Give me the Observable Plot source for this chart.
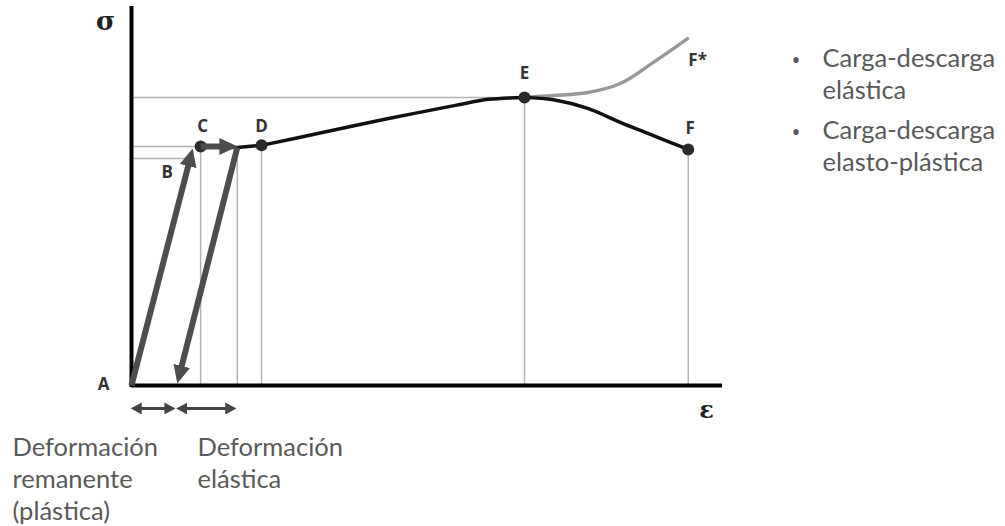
<!DOCTYPE html>
<html><head><meta charset="utf-8">
<script src="https://cdn.jsdelivr.net/npm/d3@7"></script>
<script src="https://cdn.jsdelivr.net/npm/@observablehq/plot@0.6"></script>
<style>body{margin:0;background:#fff;}</style>
</head><body><div id="chart"></div>
<script>
// ---- data (ε, σ in schematic units) ----
const pointLabels = ["A", "B", "C", "D", "E", "F", "F*"];
const pointEps    = [0, 9.6, 11.7, 22.0, 66.5, 94.2, 94.1];
const pointSigma  = [0, 60.2, 63.4, 63.7, 76.4, 62.6, 92.0];
const dotLabels   = ["C", "D", "E", "F"];

const hardeningEps   = [22.0, 32.3, 43.5, 54.8, 60.4, 66.5];
const hardeningSigma = [63.7, 67.1, 70.8, 74.3, 75.9, 76.4];
const softeningEps   = [66.5, 71.4, 77.2, 82.7, 88.3, 94.2];
const softeningSigma = [76.4, 75.8, 73.5, 69.8, 66.3, 62.6];
const elasticEps     = [66.5, 71.4, 77.2, 82.7, 88.3, 94.1];
const elasticSigma   = [76.4, 76.9, 77.7, 80.1, 85.7, 92.0];
const plateauEps     = [11.7, 17.9, 22.0];
const plateauSigma   = [63.4, 63.1, 63.7];

// vertical guides (ε of point, up to its σ) and horizontal guides
const vGuideEps   = [11.7, 17.9, 22.0, 66.5, 94.2];
const vGuideSigma = [63.4, 63.1, 63.7, 76.4, 62.6];
const hGuideEps   = [9.6, 11.7, 66.5];
const hGuideSigma = [60.2, 63.4, 76.4];

// loading / unloading arrows
const arrowFromEps   = [0, 11.7, 17.9];
const arrowFromSigma = [0, 63.4, 63.1];
const arrowToEps     = [10.1, 16.9, 8.0];
const arrowToSigma   = [61.3, 63.4, 2.1];

// strain spans below the axis
const spanFrom  = [0.3, 8.0];
const spanTo    = [7.0, 17.3];
const spanSigma = -6.1;

const noteTexts   = ["Deformación\nremanente\n(plástica)", "Deformación\nelástica"];
const legendTexts = ["Carga-descarga\nelástica", "Carga-descarga\nelasto-plástica"];

// ---- tables ----
const pts = pointLabels.map((l, i) => ({label: l, x: pointEps[i], y: pointSigma[i]}));
const P = Object.fromEntries(pts.map(d => [d.label, d]));
const zip = (xs, ys) => xs.map((x, i) => ({x, y: ys[i]}));
const hardening = zip(hardeningEps, hardeningSigma);
const softening = zip(softeningEps, softeningSigma);
const elastic = zip(elasticEps, elasticSigma);
const plateau = zip(plateauEps, plateauSigma);
const vGuides = zip(vGuideEps, vGuideSigma);
const hGuides = zip(hGuideEps, hGuideSigma);
const arrows = arrowFromEps.map((x, i) => ({x1: x, y1: arrowFromSigma[i], x2: arrowToEps[i], y2: arrowToSigma[i]}));
const spans = spanFrom.map((x, i) => ({x1: x, x2: spanTo[i], y: spanSigma}));

function head(len, wid, back) {
  return (color) => d3.create("svg:marker")
    .attr("viewBox", `0 ${-wid / 2} ${len} ${wid}`)
    .attr("markerUnits", "userSpaceOnUse")
    .attr("markerWidth", len).attr("markerHeight", wid)
    .attr("refX", len - back).attr("refY", 0)
    .attr("orient", "auto-start-reverse")
    .attr("fill", color).attr("stroke", "none")
    .call(m => m.append("path").attr("d", `M0,${-wid / 2}L${len},0L0,${wid / 2}Z`))
    .node();
}

const labelStyle = {fontFamily: "Open Sans", fontWeight: 700, fontSize: 17, fill: "#333"};
const labelOffset = {A: [-28, -1], B: [-21, 14], C: [2, -20], D: [0, -19], E: [0, -24], F: [2, -21], "F*": [10, 22]};
const textStyle = {fontFamily: "Lato", fontSize: 25.5, fill: "#595959", textAnchor: "start", lineAnchor: "top", lineHeight: 1.27, frameAnchor: "top-left"};
const bulletStyle = {frameAnchor: "top-left", fontSize: 24, fill: "#595959"};

const chart = Plot.plot({
  width: 1005, height: 526,
  marginTop: 0, marginRight: 0, marginBottom: 0, marginLeft: 0,
  x: {domain: [0, 100], range: [131, 722], axis: null},
  y: {domain: [0, 100], range: [385, 8], axis: null},
  style: {background: "#fff"},
  marks: [
    Plot.ruleX(vGuides, {x: "x", y1: 0, y2: "y", stroke: "#b3b3b3", strokeWidth: 1.5}),
    Plot.ruleY(hGuides, {y: "y", x1: 0, x2: "x", stroke: "#b3b3b3", strokeWidth: 1.5}),
    Plot.ruleX([0], {y1: 0, y2: 100, stroke: "#000", strokeWidth: 4, strokeLinecap: "square"}),
    Plot.ruleY([0], {x1: 0, x2: 100, stroke: "#000", strokeWidth: 4}),
    Plot.line(plateau, {x: "x", y: "y", stroke: "#111", strokeWidth: 3.5}),
    Plot.line(elastic, {x: "x", y: "y", stroke: "#999", strokeWidth: 3.5, curve: "catmull-rom"}),
    Plot.line(softening, {x: "x", y: "y", stroke: "#111", strokeWidth: 3.5, curve: "catmull-rom"}),
    Plot.line(hardening, {x: "x", y: "y", stroke: "#111", strokeWidth: 3.5, curve: "catmull-rom"}),
    Plot.dot(dotLabels.map(l => P[l]), {x: "x", y: "y", r: 6, fill: "#2b2b2b"}),
    Plot.link(arrows, {x1: "x1", y1: "y1", x2: "x2", y2: "y2", stroke: "#4d4d4d", strokeWidth: 6, markerEnd: head(18, 17, 6)}),
    Plot.link(spans, {x1: "x1", x2: "x2", y1: "y", y2: "y", stroke: "#444", strokeWidth: 3, markerStart: head(11, 12, 2.5), markerEnd: head(11, 12, 2.5)}),
    ...pointLabels.map(l => Plot.text([P[l]], {x: "x", y: "y", text: "label", dx: labelOffset[l][0], dy: labelOffset[l][1], ...labelStyle})),
    Plot.text(["σ"], {x: 0, y: 100, dx: -26, dy: 13, fontFamily: "DejaVu Serif", fontWeight: 700, fontSize: 26, fill: "#222"}),
    Plot.text(["ε"], {x: 100, y: 0, dx: -16, dy: 25, fontFamily: "DejaVu Serif", fontWeight: 700, fontSize: 24, fill: "#222"}),
    Plot.text([noteTexts[0]], {...textStyle, dx: 12, dy: 432}),
    Plot.text([noteTexts[1]], {...textStyle, dx: 197, dy: 432}),
    Plot.text([legendTexts[0]], {...textStyle, dx: 822, dy: 43}),
    Plot.text([legendTexts[1]], {...textStyle, dx: 822, dy: 115}),
    Plot.text(["•"], {...bulletStyle, dx: 791, dy: 51}),
    Plot.text(["•"], {...bulletStyle, dx: 791, dy: 123})
  ]
});
document.getElementById("chart").append(chart);
</script>
</body></html>
